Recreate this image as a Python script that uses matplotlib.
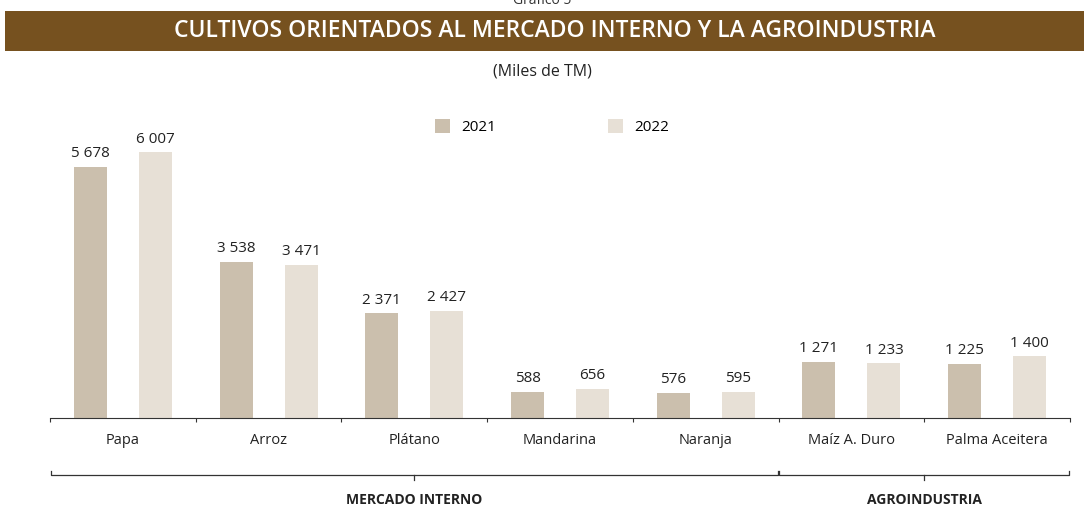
import matplotlib
matplotlib.use("Agg")
import matplotlib.pyplot as plt
from matplotlib.patches import Rectangle

categories = ["Papa", "Arroz", "Plátano", "Mandarina", "Naranja", "Maíz A. Duro", "Palma Aceitera"]
v2021 = [5678, 3538, 2371, 588, 576, 1271, 1225]
v2022 = [6007, 3471, 2427, 656, 595, 1233, 1400]
groups = ["MERCADO INTERNO", "AGROINDUSTRIA"]
group_ranges = [(0, 4), (5, 6)]

c21 = "#CBBFAD"
c22 = "#E7E0D6"
brown = "#76511F"

plt.rcParams['font.family'] = ['Open Sans', 'DejaVu Sans']

fig = plt.figure(figsize=(10.84, 5.09), dpi=100)
W, H = 1084, 509

# title bar
fig.patches.append(Rectangle((5 / W, 1 - 51 / H), 1 - 5 / W, 40 / H, transform=fig.transFigure,
                             facecolor=brown, edgecolor='none'))
fig.text(555 / W, 1 - 31 / H, "CULTIVOS ORIENTADOS AL MERCADO INTERNO Y LA AGROINDUSTRIA",
         color='white', fontsize=16.5, fontweight='semibold', ha='center', va='center')
fig.text(542 / W, 1.0, "Gráfico 5", fontsize=10, ha='center', va='center', color='#333333')
fig.text(542 / W, 1 - 72 / H, "(Miles de TM)", fontsize=11.5, ha='center', va='center', color='#222222')

ax = fig.add_axes([50 / W, 1 - 418 / H, 1020 / W, 318 / H])
x = list(range(len(categories)))
off = 0.223
bw = 0.226
b1 = ax.bar([i - off for i in x], v2021, width=bw, color=c21, label="2021")
b2 = ax.bar([i + off for i in x], v2022, width=bw, color=c22, label="2022")

def fmt(v):
    return f"{v:,}".replace(",", " ")

for bars, vals in ((b1, v2021), (b2, v2022)):
    for r, v in zip(bars, vals):
        ax.annotate(fmt(v), (r.get_x() + r.get_width() / 2, v), xytext=(0, 4),
                    textcoords='offset points', ha='center', va='bottom',
                    fontsize=11, color='#222222')

ax.set_xlim(-0.5, len(categories) - 0.5)
ax.set_ylim(0, 7194)
for s in ['top', 'right', 'left']:
    ax.spines[s].set_visible(False)
ax.spines['bottom'].set_color('#333333')
ax.spines['bottom'].set_linewidth(0.8)
ax.set_yticks([])
ax.set_xticks([i - 0.5 for i in range(len(categories) + 1)])
ax.set_xticklabels([])
ax.tick_params(axis='x', direction='out', length=3, color='#333333', width=0.8)

tr = ax.get_xaxis_transform()
for i, c in enumerate(categories):
    ax.text(i, -0.072, c, transform=tr, ha='center', va='center', fontsize=10.5, color='#222222')

yb = -0.179
for (a, b), g in zip(group_ranges, groups):
    xl, xr = a - 0.5, b + 0.5
    ax.plot([xl + 0.004, xl + 0.004, xr - 0.004, xr - 0.004], [-0.166, yb, yb, -0.166],
            transform=tr, color='#333333', lw=0.9, clip_on=False)
    xc = (xl + xr) / 2
    ax.plot([xc, xc], [yb, -0.196], transform=tr, color='#333333', lw=0.9, clip_on=False)
    ax.text(xc, -0.258, g, transform=tr, ha='center', va='center', fontsize=10,
            fontweight='bold', color='#222222')

# legend
leg = fig.legend(handles=[b1, b2], labels=["2021", "2022"], loc='center',
                 bbox_to_anchor=(552 / W, 1 - 127 / H), ncol=2, frameon=False,
                 fontsize=11, handlelength=1.0, handleheight=1.0, columnspacing=7.3,
                 handletextpad=0.75)

fig.savefig("out.png", dpi=100)
